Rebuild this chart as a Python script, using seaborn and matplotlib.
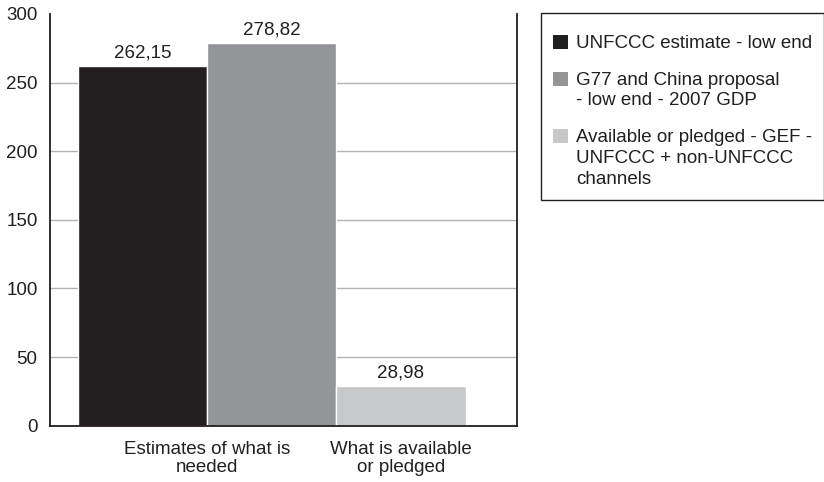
import numpy as np
import matplotlib
matplotlib.use("Agg")
import matplotlib.pyplot as plt
from matplotlib.patches import Patch
import seaborn as sns

# data
series = ["UNFCCC estimate - low end",
          "G77 and China proposal\n- low end - 2007 GDP",
          "Available or pledged - GEF -\nUNFCCC + non-UNFCCC\nchannels"]
values = [262.15, 278.82, 28.98]
groups = ["Estimates of what is\nneeded", "Estimates of what is\nneeded",
          "What is available\nor pledged"]
colors = ["#231f20", "#939598", "#c7c8ca"]
yticks = [0, 50, 100, 150, 200, 250, 300]

sns.set_style("white")
plt.rcParams["font.family"] = ["Liberation Sans", "DejaVu Sans"]
plt.rcParams["font.size"] = 13.5

fig = plt.figure(figsize=(8.24, 4.82), dpi=100)
ax = fig.add_axes([0.0607, 0.1168, 0.5667, 0.8542])

sns.barplot(x=series, y=values, hue=series, palette=colors, width=1,
            dodge=False, legend=False, saturation=1, ax=ax)

# bar value labels with decimal comma
for cont in ax.containers:
    ax.bar_label(cont, fmt=lambda v: f"{v:.2f}".replace(".", ","),
                 padding=3, fontsize=13.5, color="#231f20")

ax.set_ylim(0, 300)
ax.set_yticks(yticks)
ax.set_xlim(-0.717, 2.898)

# group labels centred under their bars
group_names = list(dict.fromkeys(groups))
pos = [np.mean([i for i, g in enumerate(groups) if g == name]) for name in group_names]
ax.set_xticks(pos)
ax.set_xticklabels(group_names, linespacing=1.05)
ax.tick_params(axis="both", length=0, labelsize=13.5, colors="#231f20")
ax.tick_params(axis="x", pad=11)
ax.tick_params(axis="y", pad=9)

ax.yaxis.grid(True, color="#b3b3b3", linewidth=1)
ax.set_axisbelow(True)
ax.get_ygridlines()[-1].set_visible(False)

sns.despine(ax=ax, top=True, right=False)
for side in ["left", "bottom", "right"]:
    ax.spines[side].set_color("#231f20")
    ax.spines[side].set_linewidth(1.3)

handles = [Patch(facecolor=c, edgecolor="none") for c in colors]
leg = fig.legend(handles, series, loc="upper left",
                 bbox_to_anchor=(0.6566, 0.9737), borderaxespad=0,
                 frameon=True, fancybox=False, framealpha=1,
                 edgecolor="#231f20", fontsize=13.5,
                 title=" ", title_fontsize=1,
                 handlelength=0.77, handleheight=0.77, handletextpad=0.45,
                 borderpad=0.65, labelspacing=1.06)
leg._legend_box.sep = 6.5
leg.get_frame().set_linewidth(1.0)
# squares sit beside the first line of each entry
for col in leg._legend_handle_box.get_children():
    for row in col.get_children():
        row.align = "top"
for t in leg.get_texts():
    t.set_linespacing(1.28)
    t.set_color("#231f20")

fig.savefig("out.png", dpi=100)
